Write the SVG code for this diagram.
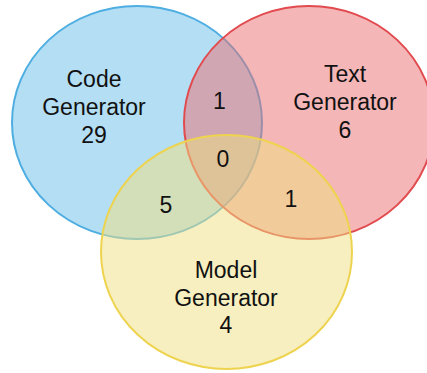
<svg xmlns="http://www.w3.org/2000/svg" width="427" height="373" viewBox="0 0 427 373">
  <style>
    .set { stroke-width: 2; fill-opacity: 0.5; }
    .label { font-family: "Liberation Sans", Arial, sans-serif; font-size: 23px; fill: #111; text-anchor: middle; }
  </style>
  <rect width="427" height="373" fill="#ffffff"/>
  <g id="code-generator">
    <ellipse class="set" cx="137" cy="122.5" rx="125" ry="116.5" fill="#69bde7" stroke="#4eaee2"/>
  </g>
  <g id="text-generator">
    <ellipse class="set" cx="309" cy="122.5" rx="125" ry="116.5" fill="#e96d6f" stroke="#e14a4e"/>
  </g>
  <g id="model-generator">
    <ellipse class="set" cx="226.5" cy="252" rx="125.5" ry="117" fill="#efdf7f" stroke="#eed34f"/>
  </g>
  <g id="labels">
    <text class="label" x="94" y="86.7">Code</text>
    <text class="label" x="94" y="115">Generator</text>
    <text class="label" x="94" y="143.3">29</text>
    <text class="label" x="345" y="81.7">Text</text>
    <text class="label" x="345" y="110">Generator</text>
    <text class="label" x="345" y="138.3">6</text>
    <text class="label" x="226" y="278.3">Model</text>
    <text class="label" x="226" y="306">Generator</text>
    <text class="label" x="226" y="333.3">4</text>
    <text class="label" x="219.5" y="109">1</text>
    <text class="label" x="223" y="166.7">0</text>
    <text class="label" x="166" y="212.7">5</text>
    <text class="label" x="291" y="206.7">1</text>
  </g>
</svg>
